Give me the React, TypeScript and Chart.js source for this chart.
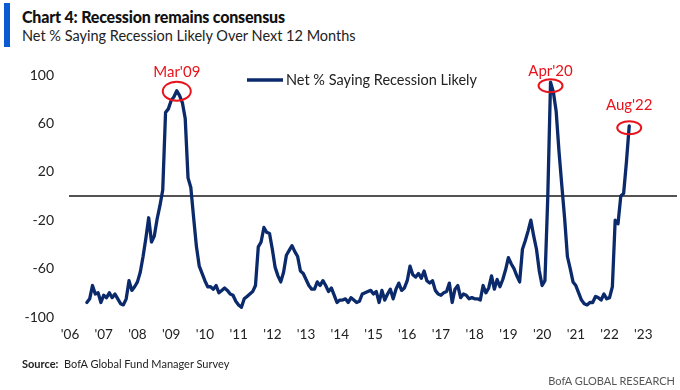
import React, { useEffect, useRef } from "react";
import { Chart, registerables } from "chart.js";

Chart.register(...registerables);

const titleText = "Chart 4: Recession remains consensus";
const subtitleText = "Net % Saying Recession Likely Over Next 12 Months";
const seriesLabel = "Net % Saying Recession Likely";
const sourceText = "BofA Global Fund Manager Survey";
const brandText = "BofA GLOBAL RESEARCH";

// monthly values, the series starts in July 2006 and ends in August 2022
const firstYear = 2006;
const firstMonth = 7;
const values2006 = [-88, -85, -74, -81, -80, -88];
const values2007 = [-82, -84, -80, -84, -81, -85, -89, -90, -85, -70, -78, -75];
const values2008 = [-71, -63, -50, -35, -18, -38, -33, -19, -8, 5, 69, 72];
const values2009 = [79, 82, 87, 83, 77, 64, 15, 7, -18, -42, -58, -64];
const values2010 = [-70, -75, -75, -77, -74, -80, -78, -76, -78, -81, -82, -87];
const values2011 = [-90, -92, -85, -83, -81, -79, -74, -42, -38, -26, -30, -31];
const values2012 = [-44, -59, -66, -71, -63, -49, -45, -41, -46, -50, -62, -64];
const values2013 = [-69, -74, -77, -77, -71, -74, -70, -74, -79, -76, -82, -88];
const values2014 = [-86, -86, -85, -88, -84, -86, -88, -87, -81, -80, -79, -78];
const values2015 = [-81, -79, -88, -78, -86, -81, -77, -85, -77, -72, -78, -76];
const values2016 = [-70, -58, -65, -67, -64, -68, -62, -70, -72, -70, -78, -81];
const values2017 = [-82, -80, -79, -72, -88, -77, -74, -84, -81, -82, -85, -84];
const values2018 = [-85, -85, -86, -74, -80, -76, -66, -77, -69, -75, -69, -61];
const values2019 = [-51, -56, -60, -66, -71, -44, -37, -29, -20, -33, -44, -62];
const values2020 = [-74, -70, -2, 94, 86, 70, 37, 9, -18, -50, -60, -71];
const values2021 = [-74, -80, -86, -89, -90, -88, -88, -83, -84, -86, -81, -85];
const values2022 = [-84, -75, -20, -23, 0, 2, 28, 58];

const yearlyValues = [
  values2006, values2007, values2008, values2009, values2010, values2011,
  values2012, values2013, values2014, values2015, values2016, values2017,
  values2018, values2019, values2020, values2021, values2022,
];

const xTickYears = [2006, 2007, 2008, 2009, 2010, 2011, 2012, 2013, 2014, 2015, 2016, 2017, 2018, 2019, 2020, 2021, 2022, 2023];
const yTickValues = [-100, -60, -20, 20, 60, 100];

const calloutLabels = ["Mar'09", "Apr'20", "Aug'22"];
const calloutYears = [2009, 2020, 2022];
const calloutMonths = [3, 4, 8];

const FONT = "Lato, 'Noto Sans', sans-serif";
const NAVY = "#0b2a6b";
const RED = "#e8141c";

const toX = (year: number, month: number) => year + (month - 1) / 12;

function buildPoints() {
  const pts: { x: number; y: number }[] = [];
  yearlyValues.forEach((arr, i) => {
    const year = firstYear + i;
    const m0 = i === 0 ? firstMonth : 1;
    arr.forEach((v, j) => pts.push({ x: toX(year, m0 + j), y: v }));
  });
  return pts;
}

const calloutStyle = [
  { rx: 14, ry: 9.5, edy: 0.5, tdy: -19 },
  { rx: 12, ry: 6.5, edy: 3.5, tdy: -11 },
  { rx: 12, ry: 6.5, edy: 2, tdy: -21 },
];

export default function App() {
  const ref = useRef<HTMLCanvasElement | null>(null);

  useEffect(() => {
    if (!ref.current) return;
    const points = buildPoints();

    const overlay = {
      id: "overlay",
      beforeDatasetsDraw(chart: any) {
        const { ctx, chartArea, scales } = chart;
        const y0 = scales.y.getPixelForValue(0);
        ctx.save();
        ctx.strokeStyle = "#1a1a1a";
        ctx.lineWidth = 1.5;
        ctx.beginPath();
        ctx.moveTo(chartArea.left - 1, y0);
        ctx.lineTo(chartArea.right, y0);
        ctx.stroke();
        ctx.restore();
      },
      afterDatasetsDraw(chart: any) {
        const { ctx, scales } = chart;
        ctx.save();
        calloutLabels.forEach((label, i) => {
          const xv = toX(calloutYears[i], calloutMonths[i]);
          const p = points.find((q) => Math.abs(q.x - xv) < 1e-6);
          if (!p) return;
          const px = scales.x.getPixelForValue(p.x);
          const py = scales.y.getPixelForValue(p.y);
          const st = calloutStyle[i];
          ctx.strokeStyle = RED;
          ctx.lineWidth = 2;
          ctx.beginPath();
          ctx.ellipse(px, py + st.edy, st.rx, st.ry, 0, 0, Math.PI * 2);
          ctx.stroke();
          ctx.fillStyle = RED;
          ctx.font = `15px ${FONT}`;
          ctx.textAlign = "center";
          ctx.textBaseline = "middle";
          ctx.fillText(label, px, py + st.tdy);
        });
        ctx.restore();
      },
      afterDraw(chart: any) {
        const { ctx } = chart;
        ctx.save();
        ctx.strokeStyle = NAVY;
        ctx.lineWidth = 3.3;
        ctx.beginPath();
        ctx.moveTo(247, 80);
        ctx.lineTo(283, 80);
        ctx.stroke();
        ctx.fillStyle = "#222";
        ctx.font = `14.5px ${FONT}`;
        ctx.textAlign = "left";
        ctx.textBaseline = "middle";
        ctx.fillText(seriesLabel, 286, 80);
        ctx.restore();
      },
    };

    const chart = new Chart(ref.current, {
      type: "line",
      data: {
        datasets: [
          {
            label: seriesLabel,
            data: points,
            borderColor: NAVY,
            borderWidth: 3.3,
            pointRadius: 0,
            tension: 0,
            fill: false,
            borderJoinStyle: "round",
            borderCapStyle: "round",
          },
        ],
      },
      options: {
        responsive: false,
        animation: false,
        devicePixelRatio: 1,
        parsing: false as any,
        layout: { padding: { left: 0, right: 3, top: 75, bottom: 43 } },
        plugins: { legend: { display: false }, tooltip: { enabled: false } },
        scales: {
          x: {
            type: "linear",
            min: 2006,
            max: 2024,
            grid: { display: false, drawTicks: false },
            border: { display: false },
            afterBuildTicks: (s: any) => {
              s.ticks = xTickYears.map((v) => ({ value: v }));
            },
            afterFit: (s: any) => {
              s.height = 30;
            },
            ticks: {
              padding: 10,
              maxRotation: 0,
              autoSkip: false,
              color: "#222",
              font: { family: FONT, size: 13.5 },
              callback: (v: any) => "'" + String(v).slice(2),
            },
          },
          y: {
            min: -100,
            max: 100,
            grid: { display: false, drawTicks: false },
            border: { display: false },
            afterBuildTicks: (s: any) => {
              s.ticks = yTickValues.map((v) => ({ value: v }));
            },
            afterFit: (s: any) => {
              s.width = 70;
            },
            ticks: {
              padding: 16,
              color: "#222",
              font: { family: FONT, size: 14 },
            },
          },
        },
      },
      plugins: [overlay],
    } as any);

    return () => chart.destroy();
  }, []);

  return (
    <div style={{ position: "absolute", left: 0, top: 0, width: 680, height: 390, background: "#fff", fontFamily: FONT, color: "#222" }}>
      <div style={{ position: "absolute", left: 4, top: 3, width: 6, height: 44, background: "#0a5ad4" }} />
      <div style={{ position: "absolute", left: 22, top: 7, fontSize: 16, fontWeight: 900, lineHeight: "19px", whiteSpace: "nowrap", color: "#111", letterSpacing: "-0.2px" }}>{titleText}</div>
      <div style={{ position: "absolute", left: 22, top: 27, fontSize: 14.5, lineHeight: "18px", whiteSpace: "nowrap", color: "#222" }}>{subtitleText}</div>
      <canvas ref={ref} width={680} height={390} style={{ position: "absolute", left: 0, top: 0, width: 680, height: 390 }} />
      <div style={{ position: "absolute", left: 22, top: 357, fontSize: 11, lineHeight: "14px", whiteSpace: "nowrap", color: "#222" }}>
        <b>Source:</b>&nbsp; {sourceText}
      </div>
      <div style={{ position: "absolute", right: 5, top: 374, fontSize: 11, lineHeight: "14px", whiteSpace: "nowrap", color: "#555" }}>{brandText}</div>
    </div>
  );
}
